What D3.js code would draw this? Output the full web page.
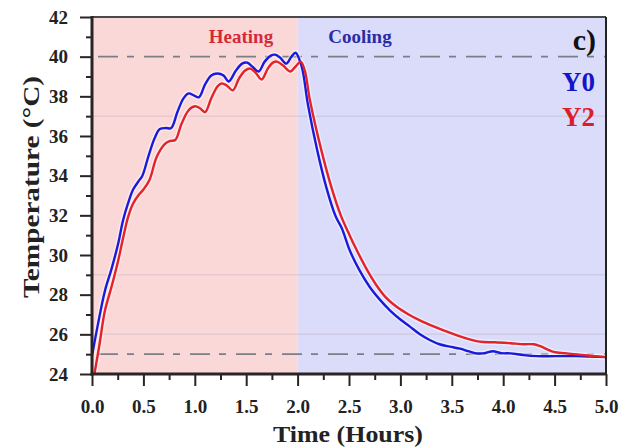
<!DOCTYPE html>
<html>
<head>
<meta charset="utf-8">
<script src="https://cdn.jsdelivr.net/npm/d3@7"></script>
<style>
  html, body { margin: 0; padding: 0; background: #fff; }
  svg { display: block; }
  text { font-family: "Liberation Serif", "Times New Roman", serif; font-weight: bold; }
</style>
</head>
<body>
<svg id="chart" width="634" height="448"></svg>
<script>
// Temperature record of two samples over a heating then cooling cycle
const seriesNames = ["Y0", "Y2"];
const seriesColors = ["#1a1adc", "#e4222a"];

// [hours, °C]
const y0Values = [
  [0.00, 24.9], [0.05, 26.3], [0.126, 28.2], [0.19, 29.3], [0.256, 30.6], [0.30, 31.7],
  [0.35, 32.6], [0.40, 33.3], [0.45, 33.7], [0.49, 34.0], [0.55, 35.0], [0.61, 35.9],
  [0.66, 36.35], [0.72, 36.4], [0.77, 36.4], [0.83, 37.2], [0.89, 37.9], [0.94, 38.15],
  [0.99, 38.05], [1.04, 37.95], [1.10, 38.6], [1.16, 39.05], [1.22, 39.15], [1.28, 39.05],
  [1.33, 38.75], [1.40, 39.3], [1.46, 39.65], [1.51, 39.7], [1.56, 39.5], [1.62, 39.25],
  [1.68, 39.75], [1.74, 40.05], [1.78, 40.1], [1.83, 39.95], [1.89, 39.65], [1.94, 40.0],
  [1.98, 40.2], [2.04, 39.5], [2.10, 37.6], [2.19, 35.3], [2.28, 33.4], [2.37, 31.95],
  [2.43, 31.35], [2.51, 30.2], [2.60, 29.25], [2.70, 28.4], [2.80, 27.75], [2.90, 27.2],
  [3.00, 26.75], [3.09, 26.4], [3.19, 26.0], [3.29, 25.7], [3.38, 25.5], [3.48, 25.38],
  [3.58, 25.28], [3.66, 25.15], [3.74, 25.04], [3.82, 25.05], [3.90, 25.15], [3.98, 25.05],
  [4.07, 25.04], [4.20, 24.95], [4.33, 24.9], [4.50, 24.9], [4.71, 24.9], [4.85, 24.88],
  [5.00, 24.85]
];
const y2Values = [
  [0.02, 23.9], [0.07, 25.4], [0.126, 27.2], [0.19, 28.4], [0.256, 29.75], [0.30, 30.8],
  [0.35, 31.9], [0.40, 32.6], [0.45, 33.0], [0.50, 33.3], [0.56, 33.8], [0.63, 34.95],
  [0.71, 35.6], [0.76, 35.75], [0.81, 35.8], [0.87, 36.6], [0.94, 37.3], [1.00, 37.5],
  [1.05, 37.4], [1.10, 37.2], [1.16, 37.9], [1.22, 38.5], [1.26, 38.65], [1.31, 38.55],
  [1.37, 38.3], [1.43, 38.9], [1.49, 39.3], [1.54, 39.4], [1.59, 39.2], [1.65, 38.85],
  [1.71, 39.4], [1.76, 39.7], [1.80, 39.75], [1.86, 39.55], [1.93, 39.25], [1.98, 39.5],
  [2.03, 39.75], [2.07, 39.3], [2.12, 37.8], [2.23, 35.3], [2.33, 33.4], [2.42, 32.0],
  [2.51, 30.95], [2.57, 30.3], [2.67, 29.3], [2.77, 28.45], [2.86, 27.85], [2.96, 27.4],
  [3.08, 27.0], [3.19, 26.7], [3.30, 26.45], [3.42, 26.2], [3.58, 25.9], [3.77, 25.63],
  [3.92, 25.6], [4.07, 25.55], [4.20, 25.5], [4.30, 25.5], [4.36, 25.4], [4.49, 25.12],
  [4.60, 25.05], [4.71, 24.99], [4.85, 24.92], [5.00, 24.85]
];

// Phases of the cycle (hours)
const phases = [
  { name: "Heating", start: 0, end: 2, fill: "#fbd8d8", color: "#d42a38" },
  { name: "Cooling", start: 2, end: 5, fill: "#dadcfa", color: "#2b2ba6" }
];
const referenceTemps = [40, 25];       // dash-dot reference levels
const faintGrid = [37, 29, 26];
const xTicks = [0, 0.5, 1, 1.5, 2, 2.5, 3, 3.5, 4, 4.5, 5];
const xMinorTicks = [0.25, 0.75, 1.25, 1.75, 2.25, 2.75, 3.25, 3.75, 4.25, 4.75];
const yTicks = [24, 26, 28, 30, 32, 34, 36, 38, 40, 42];
const yMinorTicks = [25, 27, 29, 31, 33, 35, 37, 39, 41];
const panelLabel = "c)";
const xTitle = "Time (Hours)";
const yTitle = "Temperature (°C)";

const svg = d3.select("#chart");
const plotLeft = 92, plotRight = 606, plotTop = 17, plotBottom = 374;
const x = d3.scaleLinear().domain([0, 5]).range([plotLeft, plotRight]);
const y = d3.scaleLinear().domain([24, 42]).range([plotBottom, plotTop]);

svg.append("defs").append("clipPath").attr("id", "plot")
  .append("rect").attr("x", plotLeft).attr("y", plotTop)
  .attr("width", plotRight - plotLeft).attr("height", plotBottom - plotTop);

// phase shading
svg.append("g").selectAll("rect").data(phases).join("rect")
  .attr("x", d => x(d.start)).attr("y", plotTop)
  .attr("width", d => x(d.end) - x(d.start)).attr("height", plotBottom - plotTop)
  .attr("fill", d => d.fill);

// faint horizontal lines
svg.append("g").selectAll("line").data(faintGrid).join("line")
  .attr("x1", plotLeft).attr("x2", plotRight)
  .attr("y1", d => y(d)).attr("y2", d => y(d))
  .attr("stroke", "#b9a9b9").attr("stroke-opacity", 0.3).attr("stroke-width", 1.5);

// dash-dot reference levels
svg.append("g").selectAll("line").data(referenceTemps).join("line")
  .attr("x1", plotLeft).attr("x2", plotRight)
  .attr("y1", d => y(d)).attr("y2", d => y(d))
  .attr("stroke", "#7d7d86").attr("stroke-width", 1.6)
  .attr("stroke-dasharray", "20,9,7,10").attr("stroke-dashoffset", -6);

// phase labels
svg.append("g").selectAll("text").data(phases).join("text")
  .attr("x", d => d.name === "Heating" ? 241 : 360).attr("y", 43)
  .attr("text-anchor", "middle").attr("font-size", 19)
  .attr("fill", d => d.color).text(d => d.name);

// temperature curves
const line = d3.line().x(d => x(d[0])).y(d => y(d[1])).curve(d3.curveCatmullRom.alpha(0.5));
const curves = svg.append("g").attr("clip-path", "url(#plot)");
[y0Values, y2Values].forEach(vals => {
  curves.append("path").attr("d", line(vals)).attr("fill", "none")
    .attr("stroke", "#ffffff").attr("stroke-opacity", 0.45).attr("stroke-width", 5.5)
    .attr("stroke-linejoin", "round");
});
[y0Values, y2Values].forEach((vals, i) => {
  curves.append("path").attr("d", line(vals)).attr("fill", "none")
    .attr("stroke", seriesColors[i]).attr("stroke-width", 2.4)
    .attr("stroke-linejoin", "round");
});

// axes
const axisColor = "#2a2424";
function styleAxis(g) {
  g.select(".domain").remove();
  g.selectAll("line").attr("stroke", axisColor).attr("stroke-width", 2);
  g.selectAll("text").attr("fill", "#222").attr("font-size", 19)
    .attr("font-family", "'Liberation Serif', serif").attr("font-weight", "bold");
}
svg.append("g").attr("transform", `translate(0,${plotBottom})`)
  .call(d3.axisBottom(x).tickValues(xMinorTicks).tickSize(6).tickFormat(""))
  .call(styleAxis);
svg.append("g").attr("transform", `translate(0,${plotBottom})`)
  .call(d3.axisBottom(x).tickValues(xTicks).tickSize(12).tickPadding(14).tickFormat(d3.format(".1f")))
  .call(styleAxis);
svg.append("g").attr("transform", `translate(${plotLeft},0)`)
  .call(d3.axisLeft(y).tickValues(yMinorTicks).tickSize(6).tickFormat(""))
  .call(styleAxis);
svg.append("g").attr("transform", `translate(${plotLeft},0)`)
  .call(d3.axisLeft(y).tickValues(yTicks).tickSize(12).tickPadding(12).tickFormat(d3.format("d")))
  .call(styleAxis);

// frame
svg.append("line").attr("x1", plotLeft).attr("x2", plotRight).attr("y1", plotTop).attr("y2", plotTop)
  .attr("stroke", "#4a4a4a").attr("stroke-width", 2);
svg.append("line").attr("x1", plotRight).attr("x2", plotRight).attr("y1", plotTop).attr("y2", plotBottom)
  .attr("stroke", "#222").attr("stroke-width", 2);
svg.append("line").attr("x1", plotLeft).attr("x2", plotLeft).attr("y1", plotTop - 1).attr("y2", plotBottom + 1.5)
  .attr("stroke", axisColor).attr("stroke-width", 3);
svg.append("line").attr("x1", plotLeft - 1.5).attr("x2", plotRight + 1).attr("y1", plotBottom).attr("y2", plotBottom)
  .attr("stroke", axisColor).attr("stroke-width", 3);

// series labels
svg.append("g").selectAll("text").data(seriesNames).join("text")
  .attr("x", 595).attr("y", (d, i) => 91 + i * 35)
  .attr("text-anchor", "end").attr("font-size", 27)
  .attr("fill", (d, i) => i === 0 ? "#1414c8" : "#dc1e28").text(d => d);

svg.append("text").attr("x", 596).attr("y", 50).attr("text-anchor", "end")
  .attr("font-size", 30).attr("fill", "#111").text(panelLabel);

// axis titles
svg.append("text").attr("x", 348).attr("y", 442).attr("text-anchor", "middle")
  .attr("font-size", 24).attr("fill", "#222")
  .attr("textLength", 150).attr("lengthAdjust", "spacingAndGlyphs").text(xTitle);
svg.append("text").attr("transform", "translate(39,187) rotate(-90)")
  .attr("text-anchor", "middle").attr("font-size", 24).attr("fill", "#222")
  .attr("textLength", 222).attr("lengthAdjust", "spacingAndGlyphs").text(yTitle);
</script>
</body>
</html>
